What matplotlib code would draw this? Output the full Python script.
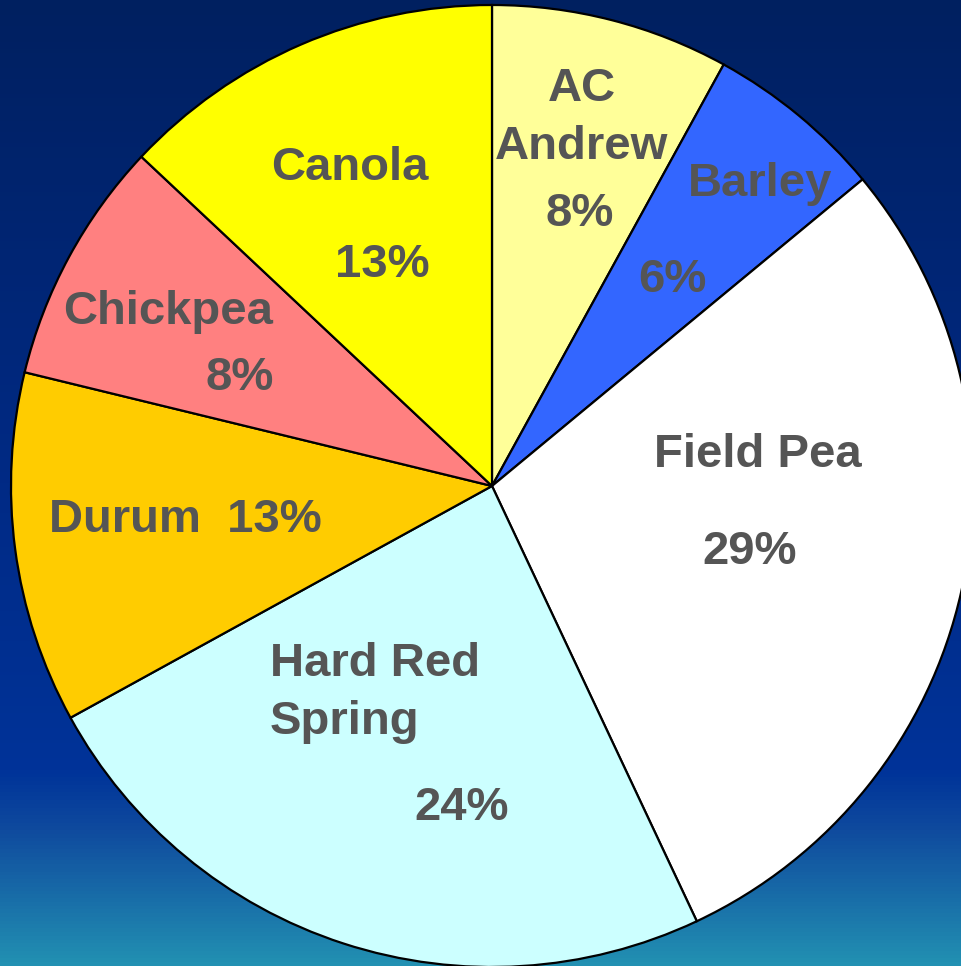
import numpy as np
import matplotlib.pyplot as plt
from matplotlib.colors import LinearSegmentedColormap

# slice shares, clockwise from 12 o'clock
crops = ["AC Andrew", "Barley", "Field Pea", "Hard Red Spring", "Durum", "Chickpea", "Canola"]
shares = [8.0, 6.0, 29.0, 24.0, 11.8, 8.2, 13.0]
pct_labels = ["8%", "6%", "29%", "24%", "13%", "8%", "13%"]
colors = ["#FFFF99", "#3366FF", "#FFFFFF", "#CCFFFF", "#FFCC00", "#FF8080", "#FFFF00"]

W, H = 961, 966
fig = plt.figure(figsize=(W / 100, H / 100), dpi=100)
ax = fig.add_axes([0, 0, 1, 1])

# background gradient, navy at top to teal at bottom
bg = LinearSegmentedColormap.from_list("bg", [
    (0.0, "#002060"),
    (0.5, "#002A85"),
    (0.8, "#003399"),
    (0.86, "#0F4A9E"),
    (1.0, "#2290B2"),
])
grad = np.linspace(0, 1, 256).reshape(-1, 1)
ax.imshow(grad, cmap=bg, extent=[0, W, 0, H], aspect="auto", zorder=0)

cx, cy, r = 492, H - 486, 481
ax.pie(shares, colors=colors, startangle=90, counterclock=False,
       center=(cx, cy), radius=r, frame=True,
       wedgeprops=dict(edgecolor="black", linewidth=1.6))
ax.set_xlim(0, W)
ax.set_ylim(0, H)
ax.axis("off")

txt = dict(fontsize=34, fontweight="bold", color="#555555",
           family=["Liberation Sans", "DejaVu Sans"], ha="center", va="center")


def put(x, y, s, **kw):
    opts = dict(txt)
    opts.update(kw)
    ax.text(x, H - y - 3, s, **opts)


put(582, 86, "AC")
put(582, 144, "Andrew")
put(580, 211, pct_labels[0])
put(760, 181, crops[1])
put(672, 277, pct_labels[1])
put(758, 452, crops[2])
put(750, 549, pct_labels[2])
put(270, 661, "Hard Red", ha="left")
put(270, 719, "Spring", ha="left")
put(462, 805, pct_labels[3])
put(185, 517, crops[4] + "  " + pct_labels[4])
put(168, 309, crops[5])
put(240, 375, pct_labels[5])
put(350, 165, crops[6])
put(382, 262, pct_labels[6])

fig.savefig("out.png", dpi=100)
